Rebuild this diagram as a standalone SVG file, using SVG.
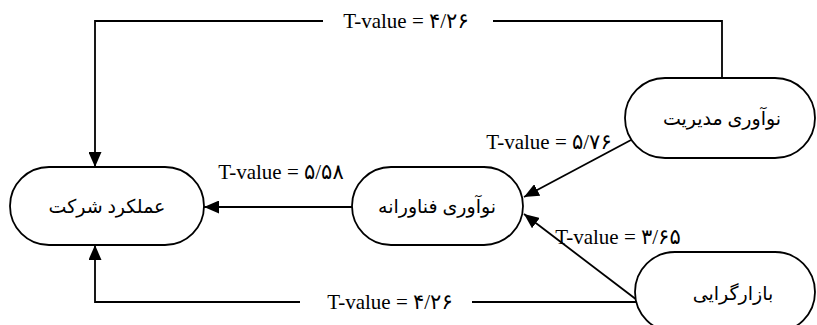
<svg xmlns="http://www.w3.org/2000/svg" width="817" height="325" viewBox="0 0 817 325">
  <style>
    .node { fill: #ffffff; stroke: #000000; stroke-width: 1.8; }
    .ntext { font-family: "Liberation Serif", "DejaVu Sans", serif; font-size: 19px; fill: #000; text-anchor: middle; dominant-baseline: central; direction: rtl; }
    .conn { fill: none; stroke: #000000; stroke-width: 1.8; }
    .lbl { font-family: "Liberation Serif", "DejaVu Sans", serif; font-size: 21px; fill: #000; text-anchor: middle; }
  </style>
  <defs>
    <marker id="arrow" markerUnits="userSpaceOnUse" markerWidth="15" markerHeight="13" refX="15" refY="6.5" orient="auto" viewBox="0 0 15 13">
      <path d="M0,0 L15,6.5 L0,13 z" fill="#000"/>
    </marker>
  </defs>
  <rect width="817" height="325" fill="#ffffff"/>

  <g id="connectors">
    <path class="conn" d="M722,78 V21 H493"/>
    <path class="conn" d="M323,21 H95 V167" marker-end="url(#arrow)"/>
    <path class="conn" d="M637,302 H472"/>
    <path class="conn" d="M300,302 H95 V245" marker-end="url(#arrow)"/>
    <path class="conn" d="M352,207 H204" marker-end="url(#arrow)"/>
    <path class="conn" d="M631,140 L524,197" marker-end="url(#arrow)"/>
    <path class="conn" d="M637,300 L524,214" marker-end="url(#arrow)"/>
    <text class="lbl" x="406" y="28">T-value = ۴/۲۶</text>
    <text class="lbl" x="390" y="309">T-value = ۴/۲۶</text>
    <text class="lbl" x="281" y="179">T-value = ۵/۵۸</text>
    <text class="lbl" x="549" y="149">T-value = ۵/۷۶</text>
    <text class="lbl" x="618" y="244">T-value = ۳/۶۵</text>
  </g>

  <g id="node-performance">
    <rect class="node" x="10" y="167" width="194" height="78" rx="39" ry="39"/>
    <text class="ntext" x="107" y="206">عملکرد شرکت</text>
  </g>
  <g id="node-tech">
    <rect class="node" x="352" y="167" width="171" height="78" rx="39" ry="39"/>
    <text class="ntext" x="437" y="206">نوآوری فناورانه</text>
  </g>
  <g id="node-management">
    <rect class="node" x="625" y="78" width="190" height="80" rx="40" ry="40"/>
    <text class="ntext" x="722" y="118">نوآوری مدیریت</text>
  </g>
  <g id="node-market">
    <rect class="node" x="635" y="252" width="180" height="80" rx="40" ry="40"/>
    <text class="ntext" x="733" y="293">بازارگرایی</text>
  </g>
</svg>
